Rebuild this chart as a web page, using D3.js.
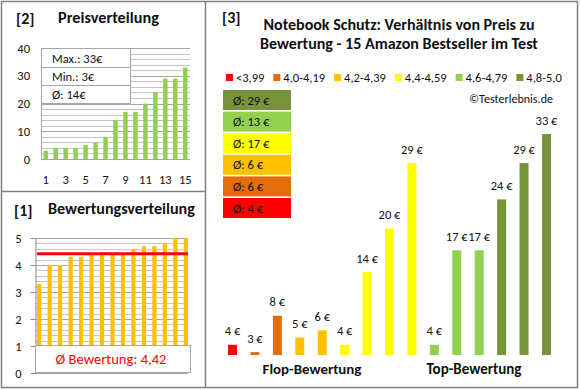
<!DOCTYPE html>
<html><head><meta charset="utf-8">
<script src="https://cdn.jsdelivr.net/npm/d3@7"></script>
<style>body{margin:0;background:#fff}svg{display:block}text{font-family:Carlito,Calibri,Lato,"Open Sans",sans-serif}</style>
</head><body><svg id="c" width="580" height="390"></svg>
<script>
// ---- data ----
const priceRanks = [1,2,3,4,5,6,7,8,9,10,11,12,13,14,15];
const priceTickLabels = [1,3,5,7,9,11,13,15];
const priceValues = [3,4,4,4,5,6,8,14,17,17,20,24,29,29,33];
const priceYTicks = [0,10,20,30,40];
const priceSummary = ["Max.: 33€","Min.: 3€","Ø: 14€"];
const ratingValues = [3.3,4.0,4.0,4.3,4.3,4.4,4.4,4.4,4.4,4.6,4.7,4.7,4.8,5.0,5.0];
const ratingYTicks = [0,1,2,3,4,5];
const ratingAvg = 4.42;
const ratingAvgLabel = "Ø Bewertung: 4,42";
const productPrices = [4,3,8,5,6,4,14,20,29,4,17,17,24,29,33];
const productGroup = [0,1,1,2,2,3,3,3,3,4,4,4,5,5,5];
const groupLabels = ["<3,99","4,0-4,19","4,2-4,39","4,4-4,59","4,6-4,79","4,8-5,0"];
const groupColors = ["#FF0000","#E46C0A","#FFC000","#FFFF00","#92D050","#77933C"];
const groupAvgs = [4,6,6,17,13,29];
const sectionLabels = ["Flop-Bewertung","Top-Bewertung"];
const titleLines = ["Notebook Schutz: Verhältnis von Preis zu","Bewertung - 15 Amazon Bestseller im Test"];

const svg = d3.select("#c");
const txt = "#111";
// scale a text's font size so it spans a given width
function fit(sel, w){
  const n = sel.node(); const fs = parseFloat(sel.attr("font-size"));
  const cur = n.getComputedTextLength();
  if (cur > 0) sel.attr("font-size", (fs * w / cur).toFixed(2));
  return sel;
}
// panel borders
svg.append("rect").attr("x",1.5).attr("y",1.5).attr("width",576).attr("height",386)
  .attr("fill","none").attr("stroke","#808080").attr("stroke-width",1.5);
svg.append("line").attr("x1",205.5).attr("x2",205.5).attr("y1",1).attr("y2",388).attr("stroke","#808080").attr("stroke-width",1.5);
svg.append("line").attr("x1",1).attr("x2",205).attr("y1",191.5).attr("y2",191.5).attr("stroke","#808080").attr("stroke-width",1.5);

// ===== Panel [2] Preisverteilung =====
svg.append("text").attr("x",16).attr("y",24).attr("font-size",16).attr("font-weight","bold").attr("fill",txt).text("[2]");
fit(svg.append("text").attr("x",58).attr("y",23).attr("font-size",13.5).attr("font-weight","bold").attr("fill",txt).text("Preisverteilung"),101);
const y2 = d3.scaleLinear().domain([0,40]).range([159,48]);
const x2 = d3.scaleBand().domain(priceRanks).range([41,190]).paddingInner(0.55).paddingOuter(0.25);
const g2 = svg.append("g");
g2.selectAll("line.grid").data(d3.range(0,41,2)).join("line")
  .attr("x1",41).attr("x2",190).attr("y1",d=>Math.round(y2(d))+0.5).attr("y2",d=>Math.round(y2(d))+0.5)
  .attr("stroke",d=>d%10===0?"#a6a6a6":"#c4c4c4").attr("stroke-width",1);
g2.append("line").attr("x1",41.5).attr("x2",41.5).attr("y1",48).attr("y2",159.5).attr("stroke","#a6a6a6");
g2.selectAll("rect.bar").data(priceValues).join("rect")
  .attr("x",(d,i)=>x2(priceRanks[i])).attr("width",x2.bandwidth())
  .attr("y",d=>y2(d)).attr("height",d=>y2(0)-y2(d)).attr("fill","#92D050");
const ax2y = g2.append("g").attr("transform","translate(30,0)")
  .call(d3.axisLeft(y2).tickValues(priceYTicks).tickSize(0).tickPadding(0));
ax2y.select(".domain").remove();
ax2y.selectAll("text").attr("font-size",12.5).attr("fill",txt).attr("font-family",null);
const ax2x = g2.append("g").attr("transform","translate(0,175)")
  .call(d3.axisBottom(x2).tickValues(priceTickLabels).tickSize(0).tickPadding(0));
ax2x.select(".domain").remove();
ax2x.selectAll("text").attr("font-size",12.5).attr("fill",txt).attr("font-family",null);
// summary box
const sb = g2.append("g");
sb.append("rect").attr("x",41.5).attr("y",48.5).attr("width",89).attr("height",55).attr("fill","#fff").attr("stroke","#a6a6a6");
[67,85].forEach(yy=>sb.append("line").attr("x1",41.5).attr("x2",130.5).attr("y1",yy+0.5).attr("y2",yy+0.5).attr("stroke","#a6a6a6"));
sb.selectAll("text").data(priceSummary).join("text")
  .attr("x",52).attr("y",(d,i)=>62.5+i*18.3).attr("font-size",12.5).attr("fill",txt).text(d=>d);

// ===== Panel [1] Bewertungsverteilung =====
svg.append("text").attr("x",14).attr("y",216).attr("font-size",16).attr("font-weight","bold").attr("fill",txt).text("[1]");
fit(svg.append("text").attr("x",48).attr("y",214).attr("font-size",13.5).attr("font-weight","bold").attr("fill",txt).text("Bewertungsverteilung"),147);
const y1 = d3.scaleLinear().domain([0,5]).range([373,238]);
const x1 = d3.scaleBand().domain(priceRanks).range([35,190]).paddingInner(0.6).paddingOuter(0.2);
const g1 = svg.append("g");
g1.selectAll("line.grid").data(d3.range(0,26).map(d=>d/5)).join("line")
  .attr("x1",35).attr("x2",188).attr("y1",d=>Math.round(y1(d))+0.5).attr("y2",d=>Math.round(y1(d))+0.5)
  .attr("stroke",(d,i)=>i%5===0?"#a6a6a6":"#c8c8c8");
g1.selectAll("rect.bar").data(ratingValues).join("rect")
  .attr("x",(d,i)=>x1(priceRanks[i])).attr("width",x1.bandwidth())
  .attr("y",d=>y1(d)).attr("height",d=>y1(0)-y1(d)).attr("fill","#FFC000");
const ax1 = g1.append("g").attr("transform","translate(35.5,0)")
  .call(d3.axisLeft(y1).tickValues(ratingYTicks).tickFormat(d3.format("d")).tickSize(5).tickPadding(9).tickSizeOuter(0));
ax1.select(".domain").attr("stroke","#8c8c8c");
ax1.selectAll(".tick line").attr("stroke","#8c8c8c");
ax1.selectAll("text").attr("font-size",12.5).attr("fill",txt).attr("font-family",null);
g1.append("line").attr("x1",x1(1)).attr("x2",x1(15)+x1.bandwidth()).attr("y1",y1(ratingAvg)).attr("y2",y1(ratingAvg))
  .attr("stroke","#FF0000").attr("stroke-width",3);
g1.append("rect").attr("x",35.5).attr("y",y1(1)-0.5).attr("width",155).attr("height",y1(0)-y1(1)).attr("fill","#fff").attr("stroke","#a6a6a6");
fit(g1.append("text").attr("x",111).attr("y",364).attr("text-anchor","middle").attr("font-size",14.5).attr("fill","#FF0000").text(ratingAvgLabel),111);

// ===== Panel [3] =====
svg.append("text").attr("x",222).attr("y",23).attr("font-size",16).attr("font-weight","bold").attr("fill",txt).text("[3]");
const titleW = [271,278];
svg.selectAll("text.title").data(titleLines).join("text").attr("class","title")
  .attr("x",399).attr("y",(d,i)=>30+i*19).attr("text-anchor","middle").attr("font-size",14.5).attr("font-weight","bold").attr("fill",txt).text(d=>d)
  .each(function(d,i){ fit(d3.select(this), titleW[i]); });
// legend
let lx = 226;
groupLabels.forEach((lab,i)=>{
  svg.append("rect").attr("x",lx).attr("y",74).attr("width",7).attr("height",7).attr("fill",groupColors[i]);
  const t = svg.append("text").attr("x",lx+10).attr("y",81.5).attr("font-size",12.5).attr("fill",txt).text(lab);
  lx += 10 + t.node().getComputedTextLength() + 9;
});
// average boxes (top: best group)
const avgOrder = d3.range(groupLabels.length).reverse();
const ab = svg.append("g");
avgOrder.forEach((gi,k)=>{
  const yy = 90 + k*21.6;
  ab.append("rect").attr("x",223).attr("y",yy).attr("width",68).attr("height",20).attr("fill",groupColors[gi]);
  ab.append("text").attr("x",233).attr("y",yy+14.5).attr("font-size",12.5).attr("fill",txt).text("Ø: "+groupAvgs[gi]+" €");
});
fit(svg.append("text").attr("x",469).attr("y",103).attr("font-size",12.5).attr("fill",txt).text("©Testerlebnis.de"),84);
// bars
const x3 = d3.scaleBand().domain(d3.range(productPrices.length)).range([221.3,557.7]).paddingInner(0.6).paddingOuter(0.3);
const y3 = d3.scaleLinear().domain([2.6,33]).range([355,134]);
const g3 = svg.append("g");
g3.selectAll("rect").data(productPrices).join("rect")
  .attr("x",(d,i)=>x3(i)).attr("width",x3.bandwidth()).attr("y",d=>y3(d)).attr("height",d=>355-y3(d))
  .attr("fill",(d,i)=>groupColors[productGroup[i]]);
g3.selectAll("text").data(productPrices).join("text")
  .attr("x",(d,i)=>x3(i)+x3.bandwidth()/2).attr("y",d=>y3(d)-9.5).attr("text-anchor","middle")
  .attr("font-size",12.5).attr("fill",txt).text(d=>d+" €");
const secW = [99,95];
svg.selectAll("text.sec").data(sectionLabels).join("text").attr("class","sec")
  .attr("x",(d,i)=>i===0?312:474).attr("y",374).attr("text-anchor","middle")
  .attr("font-size",14).attr("font-weight","bold").attr("fill",txt).text(d=>d)
  .each(function(d,i){ fit(d3.select(this), secW[i]); });
</script></body></html>
